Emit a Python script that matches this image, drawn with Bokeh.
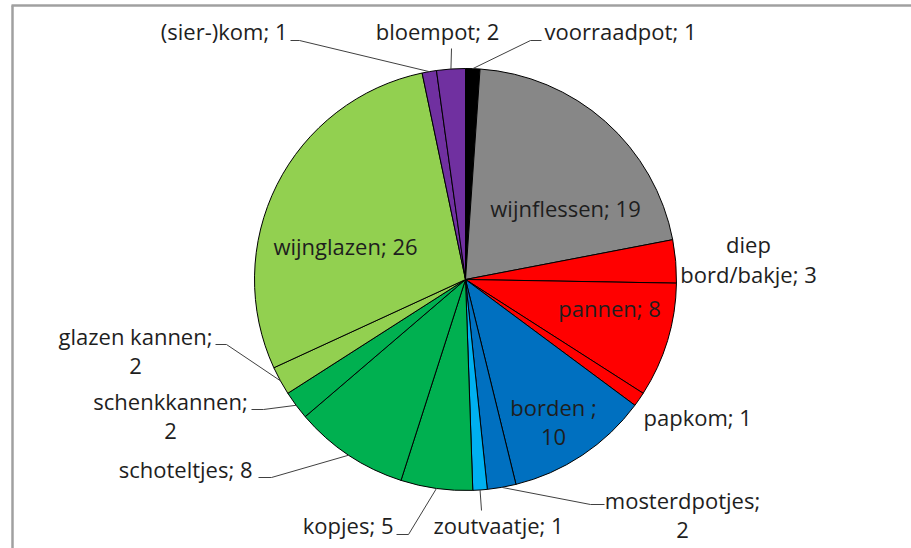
import math
from bokeh.plotting import figure
from bokeh.models import ColumnDataSource, Range1d
from bokeh.core.properties import value
from bokeh.embed import file_html
from bokeh.resources import INLINE

# ---------------- data ----------------
categories = ["voorraadpot", "wijnflessen", "diep bord/bakje", "pannen", "papkom",
              "borden ", "mosterdpotjes", "zoutvaatje", "kopjes", "schoteltjes",
              "schenkkannen", "glazen kannen", "wijnglazen", "(sier-)kom", "bloempot"]
counts = [1, 19, 3, 8, 1, 10, 2, 1, 5, 8, 2, 2, 26, 1, 2]
colors = ["#000000", "#878787", "#FF0000", "#FF0000", "#FF0000",
          "#0070C0", "#0070C0", "#00B0F0", "#00B050", "#00B050",
          "#00B050", "#92D050", "#92D050", "#7030A0", "#7030A0"]

# ---------------- layout (reference pixel coordinates) ----------------
W, H = 911, 548
CX, CY, R = 465, 279, 211          # pie centre / radius (page pixels)
FONT = "Open Sans"
FSIZE = "22px"
TXT = "#1e1e1e"
LINE_GAP = 30
TEXT_SHIFT = -4

# per slice: (x, y of first line, align, wrap-mode, leader elbow points)
label_layout = [
    (544, 34, "left", None, [(530, 40), (541, 40)]),
    (565, 211, "center", None, None),
    (748, 247, "center", "first", None),
    (609, 311, "center", None, None),
    (643, 420, "left", None, None),
    (553, 410, "center", "last", None),
    (682, 503, "center", "last", [(590, 504), (604, 504)]),
    (433, 528, "left", None, [(481, 510)]),
    (393, 528, "right", None, [(408, 534), (396, 534)]),
    (252, 472, "right", None, [(271, 477), (258, 477)]),
    (170, 404, "center", "last", [(263, 409), (251, 409)]),
    (135, 339, "center", "last", [(226, 344), (215, 344)]),
    (345, 249, "center", None, None),
    (287, 34, "right", None, [(299, 40), (290, 40)]),
    (437, 34, "center", None, [(451, 48)]),
]


def X(px):
    return px


def Y(py):
    return H - py


p = figure(width=W, height=H, output_backend="svg", toolbar_location=None,
           x_range=Range1d(0, W), y_range=Range1d(0, H), min_border=0)
p.axis.visible = False
p.grid.visible = False
p.outline_line_color = None
p.background_fill_color = "white"
p.border_fill_color = "white"

# chart frame (grey border, right/bottom cut off)
p.line(x=[X(12), X(12)], y=[Y(560), Y(5)], line_color="#A0A0A0", line_width=2.5)
p.line(x=[X(11), X(920)], y=[Y(5), Y(5)], line_color="#A0A0A0", line_width=2.5)

total = sum(counts)
starts, ends, mids = [], [], []
cum = 0
for n in counts:
    a0 = math.pi / 2 - 2 * math.pi * cum / total
    a1 = math.pi / 2 - 2 * math.pi * (cum + n) / total
    starts.append(a0)
    ends.append(a1)
    mids.append((a0 + a1) / 2)
    cum += n

src = ColumnDataSource(dict(start=starts, end=ends, color=colors, cat=categories, n=counts))
p.wedge(x=X(CX), y=Y(CY), radius=R, start_angle="start", end_angle="end",
        direction="clock", fill_color="color", line_color="black", line_width=1,
        source=src)

# labels and leader lines
for cat, n, a, lay in zip(categories, counts, mids, label_layout):
    lx, ly, align, wrap, leader = lay
    text = f"{cat}; {n}"
    if wrap == "first":
        i = text.index(" ")
        lines = [text[:i], text[i + 1:]]
    elif wrap == "last":
        i = text.rindex(" ")
        lines = [text[:i], text[i + 1:]]
    else:
        lines = [text]
    for k, ln in enumerate(lines):
        p.text(x=[X(lx)], y=[Y(ly + TEXT_SHIFT + k * LINE_GAP)], text=[ln],
               text_font=value(FONT), text_font_size=FSIZE, text_color=TXT,
               text_align=align, text_baseline="middle")
    if leader:
        ex = X(CX) + R * math.cos(a)
        ey = Y(CY) + R * math.sin(a)
        xs = [ex] + [X(q[0]) for q in leader]
        ys = [ey] + [Y(q[1]) for q in leader]
        p.line(x=xs, y=ys, line_color="#404040", line_width=1)

open("out.html", "w").write(file_html(p, INLINE))
